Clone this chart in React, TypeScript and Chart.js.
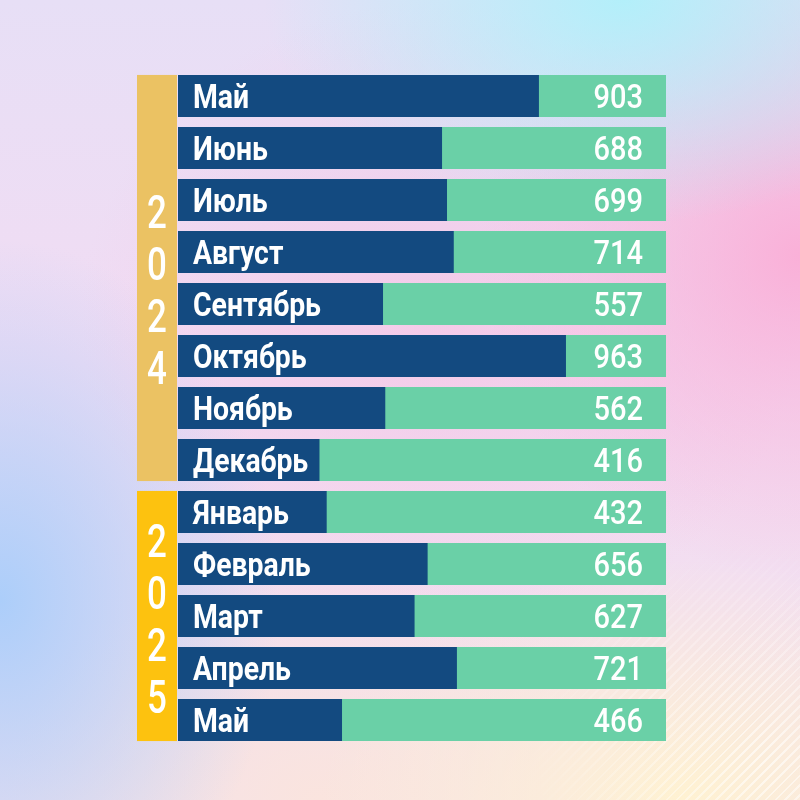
import React, { useEffect, useRef } from "react";
import { Chart, registerables } from "chart.js";

Chart.register(...registerables);

// ---- data ----
const months = [
  "Май", "Июнь", "Июль", "Август", "Сентябрь", "Октябрь", "Ноябрь", "Декабрь",
  "Январь", "Февраль", "Март", "Апрель", "Май",
];
const values = [903, 688, 699, 714, 557, 963, 562, 416, 432, 656, 627, 721, 466];
const years = ["2024", "2025"];
const yearCounts = [8, 5];
const AXIS_MIN = 102;
const AXIS_MAX = 1185;
const track = months.map(() => AXIS_MAX);

// ---- styles ----
const BLUE = "#134A80";
const GREEN = "#6AD0A7";
const YEAR_COLORS = ["#EBC263", "#FDC20F"];
const DIGIT_OFFSETS = [12, 3];
const FONT_FAMILY = '"Roboto", "Noto Sans", sans-serif';

function drawNarrow(ctx: any, text: string, x: number, y: number, font: string, sx: number, align: string) {
  ctx.save();
  ctx.font = font;
  ctx.textAlign = align;
  ctx.textBaseline = "alphabetic";
  ctx.translate(x, y);
  ctx.scale(sx, 1);
  ctx.fillText(text, 0, 0);
  ctx.restore();
}

const yearPlugin = {
  id: "yearStrips",
  afterDatasetsDraw(chart: any) {
    const ctx = chart.ctx;
    const bars = chart.getDatasetMeta(0).data;
    const area = chart.chartArea;
    if (!bars.length) return;
    const pitch = bars[1].y - bars[0].y;
    let start = 0;
    years.forEach((yr, gi) => {
      const end = start + yearCounts[gi] - 1;
      const top = bars[start].y - bars[start].height / 2;
      const bottom = bars[end].y + bars[end].height / 2;
      const x0 = area.left - 41;
      const w = 40;
      ctx.save();
      ctx.fillStyle = YEAR_COLORS[gi];
      ctx.fillRect(x0, top, w, bottom - top);
      ctx.fillStyle = "#FFFFFF";
      const cy = (top + bottom) / 2 + DIGIT_OFFSETS[gi];
      const digits = yr.split("");
      digits.forEach((d, k) => {
        const y = cy + (k - (digits.length - 1) / 2) * pitch;
        drawNarrow(ctx, d, x0 + w / 2, y + 16, `500 46px ${FONT_FAMILY}`, 0.76, "center");
      });
      ctx.restore();
      start = end + 1;
    });

    // labels and values
    ctx.save();
    ctx.fillStyle = "#FFFFFF";
    bars.forEach((bar: any, i: number) => {
      drawNarrow(ctx, months[i], area.left + 15, bar.y + 12, `bold 33px ${FONT_FAMILY}`, 0.86, "left");
      drawNarrow(ctx, String(values[i]), area.right - 23, bar.y + 12, `500 33px ${FONT_FAMILY}`, 0.88, "right");
    });
    ctx.restore();
  },
};

export default function App() {
  const ref = useRef<HTMLCanvasElement | null>(null);

  useEffect(() => {
    if (!ref.current) return;
    const chart = new Chart(ref.current, {
      type: "bar",
      data: {
        labels: months,
        datasets: [
          {
            label: "Значение",
            data: values,
            backgroundColor: BLUE,
            borderWidth: 0,
            barPercentage: 0.81,
            categoryPercentage: 1,
            order: 0,
          },
          {
            label: "Шкала",
            data: track,
            backgroundColor: GREEN,
            borderWidth: 0,
            barPercentage: 0.81,
            categoryPercentage: 1,
            order: 1,
          },
        ],
      },
      options: {
        indexAxis: "y",
        responsive: false,
        animation: false,
        layout: { padding: { left: 178, right: 134, top: 70, bottom: 54 } },
        scales: {
          x: { display: false, min: AXIS_MIN, max: AXIS_MAX, stacked: false },
          y: { display: false, stacked: true },
        },
        plugins: {
          legend: { display: false },
          tooltip: { enabled: false },
        },
      },
      plugins: [yearPlugin],
    });
    return () => chart.destroy();
  }, []);

  const bg = [
    "radial-gradient(ellipse 45% 28% at 78% 0%, rgba(176,240,250,0.95) 0%, rgba(176,240,250,0) 100%)",
    "radial-gradient(ellipse 40% 40% at 100% 32%, rgba(250,176,216,1) 0%, rgba(250,176,216,0.5) 45%, rgba(250,176,216,0) 100%)",
    "radial-gradient(ellipse 35% 45% at 0% 75%, rgba(172,206,250,1) 0%, rgba(172,206,250,0.5) 50%, rgba(172,206,250,0) 100%)",
    "radial-gradient(ellipse 45% 30% at 85% 100%, rgba(255,242,210,1) 0%, rgba(255,242,210,0) 100%)",
    "radial-gradient(ellipse 40% 30% at 40% 100%, rgba(250,228,222,1) 0%, rgba(250,228,222,0) 100%)",
    "radial-gradient(ellipse 45% 40% at 55% 40%, rgba(245,195,228,0.7) 0%, rgba(245,195,228,0) 100%)",
    "linear-gradient(180deg, #E7DFF6 0%, #F2DCF3 45%, #F3E0EE 100%)",
  ].join(", ");

  return (
    <div
      style={{
        position: "absolute",
        left: 0,
        top: 0,
        width: 800,
        height: 800,
        background: bg,
        overflow: "hidden",
      }}
    >
      <div
        style={{
          position: "absolute",
          left: 0,
          top: 0,
          width: 800,
          height: 800,
          background:
            "repeating-linear-gradient(135deg, rgba(255,255,255,0.6) 0px, rgba(255,255,255,0.6) 2px, rgba(255,255,255,0) 2px, rgba(255,255,255,0) 7px)",
          WebkitMaskImage: "radial-gradient(ellipse 30% 28% at 95% 95%, #000 0%, transparent 100%)",
          maskImage: "radial-gradient(ellipse 30% 28% at 95% 95%, #000 0%, transparent 100%)",
        }}
      />
      <canvas
        ref={ref}
        width={800}
        height={800}
        style={{ display: "block", position: "absolute", left: 0, top: 0 }}
      />
    </div>
  );
}
